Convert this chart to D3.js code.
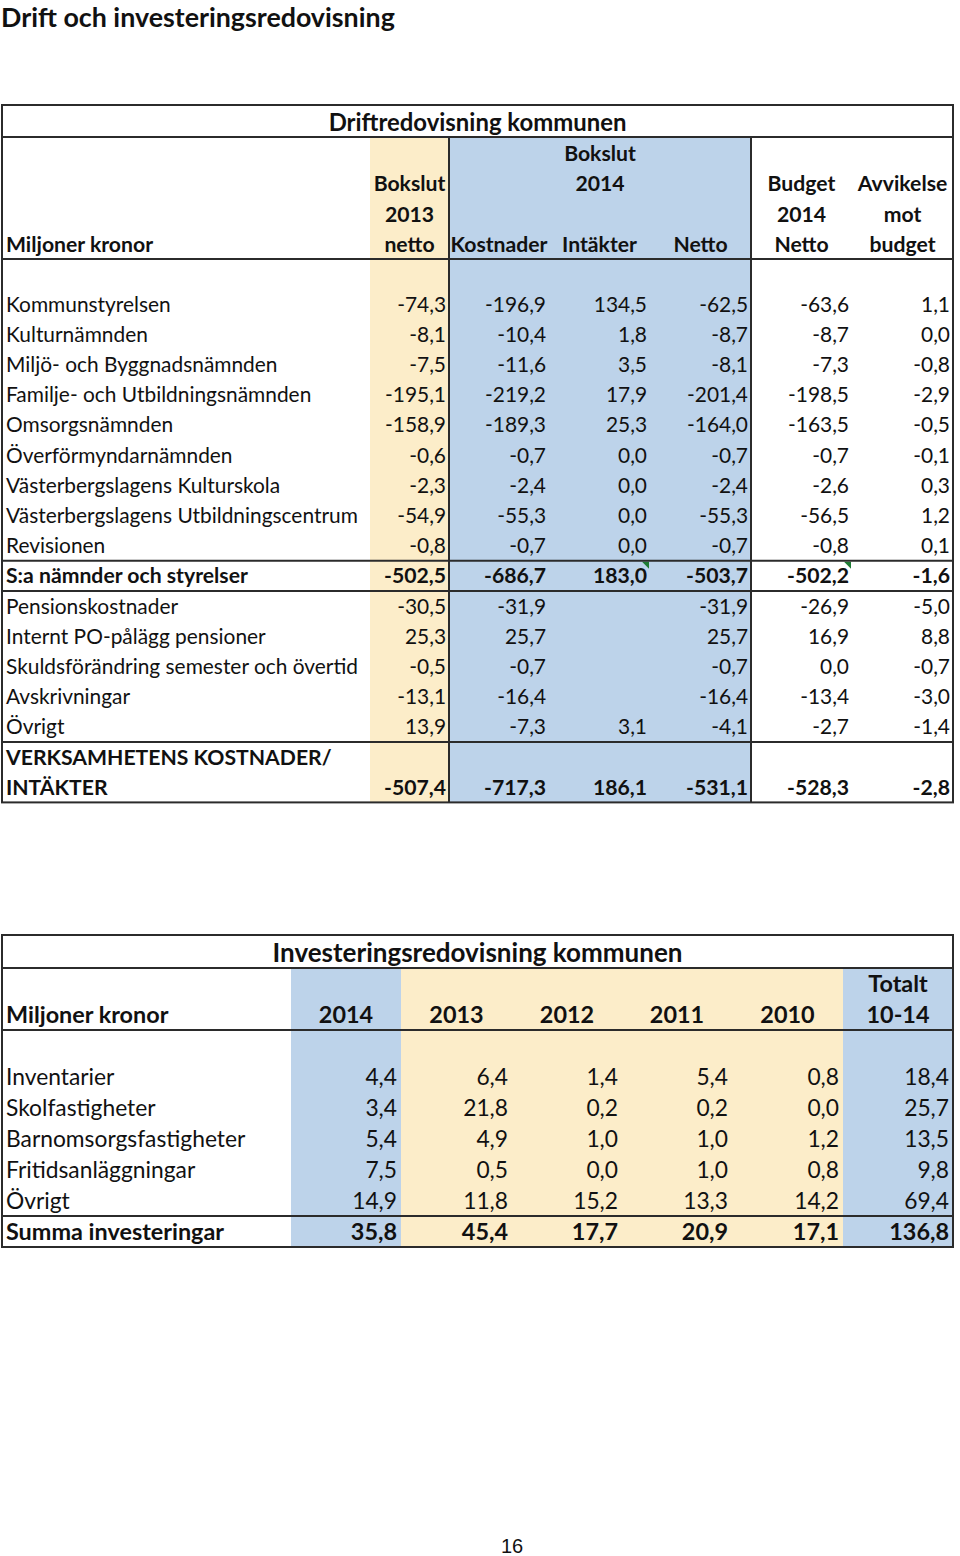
<!DOCTYPE html>
<html><head><meta charset="utf-8">
<script src="https://cdn.jsdelivr.net/npm/d3@7"></script>
<style>body{margin:0;background:#fff}svg{display:block}</style>
</head><body>
<script>
// ---------- data ----------
const pageTitle = "Drift och investeringsredovisning";
const driftTitle = "Driftredovisning kommunen";
const driftLabels = ["Kommunstyrelsen","Kulturnämnden","Miljö- och Byggnadsnämnden","Familje- och Utbildningsnämnden","Omsorgsnämnden","Överförmyndarnämnden","Västerbergslagens Kulturskola","Västerbergslagens Utbildningscentrum","Revisionen","S:a nämnder och styrelser","Pensionskostnader","Internt PO-pålägg pensioner","Skuldsförändring semester och övertid","Avskrivningar","Övrigt","VERKSAMHETENS KOSTNADER/\nINTÄKTER"];
const bokslut2013 = [-74.3,-8.1,-7.5,-195.1,-158.9,-0.6,-2.3,-54.9,-0.8,-502.5,-30.5,25.3,-0.5,-13.1,13.9,-507.4];
const kostnader2014 = [-196.9,-10.4,-11.6,-219.2,-189.3,-0.7,-2.4,-55.3,-0.7,-686.7,-31.9,25.7,-0.7,-16.4,-7.3,-717.3];
const intakter2014 = [134.5,1.8,3.5,17.9,25.3,0.0,0.0,0.0,0.0,183.0,null,null,null,null,3.1,186.1];
const netto2014 = [-62.5,-8.7,-8.1,-201.4,-164.0,-0.7,-2.4,-55.3,-0.7,-503.7,-31.9,25.7,-0.7,-16.4,-4.1,-531.1];
const budget2014 = [-63.6,-8.7,-7.3,-198.5,-163.5,-0.7,-2.6,-56.5,-0.8,-502.2,-26.9,16.9,0.0,-13.4,-2.7,-528.3];
const avvikelse = [1.1,0.0,-0.8,-2.9,-0.5,-0.1,0.3,1.2,0.1,-1.6,-5.0,8.8,-0.7,-3.0,-1.4,-2.8];
const driftBoldRows = ["S:a nämnder och styrelser","VERKSAMHETENS KOSTNADER/\nINTÄKTER"];

const invTitle = "Investeringsredovisning kommunen";
const invLabels = ["Inventarier","Skolfastigheter","Barnomsorgsfastigheter","Fritidsanläggningar","Övrigt","Summa investeringar"];
const invYears = ["2014","2013","2012","2011","2010","Totalt\n10-14"];
const inv2014 = [4.4,3.4,5.4,7.5,14.9,35.8];
const inv2013 = [6.4,21.8,4.9,0.5,11.8,45.4];
const inv2012 = [1.4,0.2,1.0,0.0,15.2,17.7];
const inv2011 = [5.4,0.2,1.0,1.0,13.3,20.9];
const inv2010 = [0.8,0.0,1.2,0.8,14.2,17.1];
const invTotal = [18.4,25.7,13.5,9.8,69.4,136.8];
const pageNumber = "16";

// ---------- drawing ----------
const W = 960, H = 1556;
const FONT = "Lato, 'Open Sans', sans-serif";
const YELLOW = "#fcedc9", BLUE = "#bdd3ea", LINE = "#2b2b2b", INK = "#111";
const fmt = v => v == null ? "" : d3.format(".1f")(v).replace("−","-").replace(".", ",");

const svg = d3.select("body").append("svg").attr("width", W).attr("height", H)
  .style("font-family", FONT);

svg.append("text").attr("x", 1).attr("y", 26.5).attr("font-size", 26.8).attr("font-weight", 700)
  .attr("fill", INK).text(pageTitle);

function hline(g, x1, x2, y, w){ g.append("line").attr("x1",x1).attr("x2",x2).attr("y1",y).attr("y2",y).attr("stroke",LINE).attr("stroke-width",w||2); }
function vline(g, x, y1, y2, w){ g.append("line").attr("x1",x).attr("x2",x).attr("y1",y1).attr("y2",y2).attr("stroke",LINE).attr("stroke-width",w||2); }

// ===== Table 1 =====
{
  const FS = 20.9, FH = 21.2, OFF = 7.5;
  const g = svg.append("g");
  const L = 2, R = 953, top = 105, hdrTop = 137, hdrBot = 259, bodyTop = 289, pitch = 30.2;
  const cols = ["label","b13","kost","int","net","bud","avv"];
  const edges = [2, 370, 449, 549, 650, 751, 852, 953];
  const xL = d3.scaleOrdinal().domain(cols).range(edges.slice(0,7));
  const xR = d3.scaleOrdinal().domain(cols).range(edges.slice(1));
  const rowUnits = driftLabels.map(l => l.includes("\n") ? 2 : 1);
  const starts = d3.cumsum([0].concat(rowUnits)).slice(0, -1);
  const totalUnits = d3.sum(rowUnits);
  const y = d3.scaleLinear().domain([0, totalUnits]).range([bodyTop, bodyTop + totalUnits * pitch]);
  const bottom = y(totalUnits);
  const hy = d3.scaleLinear().domain([0,4]).range([hdrTop, hdrBot]);

  g.append("rect").attr("x", xL("b13")).attr("y", hdrTop).attr("width", xR("b13")-xL("b13")).attr("height", bottom-hdrTop).attr("fill", YELLOW);
  g.append("rect").attr("x", xL("kost")).attr("y", hdrTop).attr("width", xR("net")-xL("kost")).attr("height", bottom-hdrTop).attr("fill", BLUE);

  g.append("text").attr("x", (L+R)/2).attr("y", 131).attr("text-anchor","middle").attr("font-size", 23.9).attr("font-weight",700).attr("fill",INK).text(driftTitle);

  const bokCx = (xL("kost")+xR("net"))/2;
  const hdr = [
    {t:"Miljoner kronor", line:3, x:6, anchor:"start"},
    {t:"Bokslut", line:1, col:"b13"},{t:"2013", line:2, col:"b13"},{t:"netto", line:3, col:"b13"},
    {t:"Bokslut", line:0, cx:bokCx},{t:"2014", line:1, cx:bokCx},
    {t:"Kostnader", line:3, col:"kost"},{t:"Intäkter", line:3, col:"int"},{t:"Netto", line:3, col:"net"},
    {t:"Budget", line:1, col:"bud"},{t:"2014", line:2, col:"bud"},{t:"Netto", line:3, col:"bud"},
    {t:"Avvikelse", line:1, col:"avv"},{t:"mot", line:2, col:"avv"},{t:"budget", line:3, col:"avv"}
  ];
  g.selectAll("text.h").data(hdr).join("text").attr("class","h")
    .attr("x", d => d.x != null ? d.x : d.cx != null ? d.cx : (xL(d.col)+xR(d.col))/2)
    .attr("y", d => (hy(d.line)+hy(d.line+1))/2 + OFF + 1)
    .attr("text-anchor", d => d.anchor || "middle")
    .attr("font-size", FH).attr("font-weight", 700).attr("fill",INK).text(d => d.t);

  const series = {b13:bokslut2013, kost:kostnader2014, int:intakter2014, net:netto2014, bud:budget2014, avv:avvikelse};
  driftLabels.forEach((lab, i) => {
    const bold = driftBoldRows.includes(lab);
    const parts = lab.split("\n");
    const lastCenter = (y(starts[i] + rowUnits[i] - 1) + y(starts[i] + rowUnits[i])) / 2;
    parts.forEach((p, k) => {
      const c = (y(starts[i] + k) + y(starts[i] + k + 1)) / 2;
      g.append("text").attr("x", 6).attr("y", c + OFF).attr("font-size", bold ? FH : FS)
        .attr("font-weight", bold ? 700 : 400).attr("fill",INK).text(p);
    });
    Object.keys(series).forEach(k => {
      g.append("text").attr("x", xR(k) - 3).attr("y", lastCenter + OFF).attr("text-anchor","end")
        .attr("font-size", bold ? FH : FS).attr("font-weight", bold ? 700 : 400).attr("fill",INK)
        .text(fmt(series[k][i]));
    });
  });

  const sIdx = driftLabels.indexOf(driftBoldRows[0]);
  ["int","bud"].forEach(k => {
    const x0 = xR(k), y0 = y(starts[sIdx]) + 1;
    g.append("path").attr("d", `M${x0-8},${y0}L${x0-1},${y0}L${x0-1},${y0+7}Z`).attr("fill","#1e7b34");
  });

  hline(g, L, R, hdrTop); hline(g, L, R, hdrBot);
  hline(g, L, R, y(starts[sIdx])); hline(g, L, R, y(starts[sIdx]+1));
  hline(g, L, R, y(starts[driftLabels.length-1]));
  vline(g, xL("kost"), hdrTop, bottom); vline(g, xR("net"), hdrTop, bottom);
  g.append("rect").attr("x", L).attr("y", top).attr("width", R-L).attr("height", bottom-top)
    .attr("fill","none").attr("stroke", LINE).attr("stroke-width", 2);
}

// ===== Table 2 =====
{
  const FS = 22.8, FH = 23.4, OFF = 8;
  const g = svg.append("g");
  const L = 2, R = 953, top = 935, hdrTop = 968, hdrBot = 1030, bodyTop = 1061, pitch = 31;
  const cols = ["label"].concat(invYears);
  const edges = [2, 291, 401, 512, 622, 732, 843, 953];
  const xL = d3.scaleOrdinal().domain(cols).range(edges.slice(0,7));
  const xR = d3.scaleOrdinal().domain(cols).range(edges.slice(1));
  const y = d3.scaleLinear().domain([0, invLabels.length]).range([bodyTop, bodyTop + invLabels.length * pitch]);
  const bottom = y(invLabels.length);
  const hy = d3.scaleLinear().domain([0,2]).range([hdrTop, hdrBot]);
  const colFill = [BLUE, YELLOW, YELLOW, YELLOW, YELLOW, BLUE];

  invYears.forEach((yr, j) => {
    g.append("rect").attr("x", xL(yr)).attr("y", hdrTop).attr("width", xR(yr)-xL(yr)).attr("height", bottom-hdrTop).attr("fill", colFill[j]);
  });

  g.append("text").attr("x", (L+R)/2).attr("y", 962).attr("text-anchor","middle").attr("font-size", 26).attr("font-weight",700).attr("fill",INK).text(invTitle);

  g.append("text").attr("x", 6).attr("y", (hy(1)+hy(2))/2 + OFF).attr("font-size", FH).attr("font-weight",700).attr("fill",INK).text("Miljoner kronor");
  invYears.forEach(yr => {
    const parts = yr.split("\n");
    parts.forEach((p, k) => {
      const line = 2 - parts.length + k;
      g.append("text").attr("x", (xL(yr)+xR(yr))/2).attr("y", (hy(line)+hy(line+1))/2 + OFF)
        .attr("text-anchor","middle").attr("font-size", FH).attr("font-weight",700).attr("fill",INK).text(p);
    });
  });

  const series = [inv2014, inv2013, inv2012, inv2011, inv2010, invTotal];
  invLabels.forEach((lab, i) => {
    const bold = i === invLabels.length - 1;
    const c = (y(i) + y(i+1)) / 2;
    g.append("text").attr("x", 6).attr("y", c + OFF).attr("font-size", bold?FH:FS).attr("font-weight", bold?700:400).attr("fill",INK).text(lab);
    invYears.forEach((yr, j) => {
      g.append("text").attr("x", xR(yr) - 4).attr("y", c + OFF).attr("text-anchor","end")
        .attr("font-size", bold?FH:FS).attr("font-weight", bold?700:400).attr("fill",INK).text(fmt(series[j][i]));
    });
  });

  hline(g, L, R, hdrTop); hline(g, L, R, hdrBot); hline(g, L, R, y(invLabels.length-1));
  g.append("rect").attr("x", L).attr("y", top).attr("width", R-L).attr("height", bottom-top)
    .attr("fill","none").attr("stroke", LINE).attr("stroke-width", 2);
}

svg.append("text").attr("x", 512).attr("y", 1553).attr("text-anchor","middle")
  .attr("font-family","'Liberation Sans', Arial, sans-serif").attr("font-size", 20).attr("fill",INK).text(pageNumber);
</script>
</body></html>
